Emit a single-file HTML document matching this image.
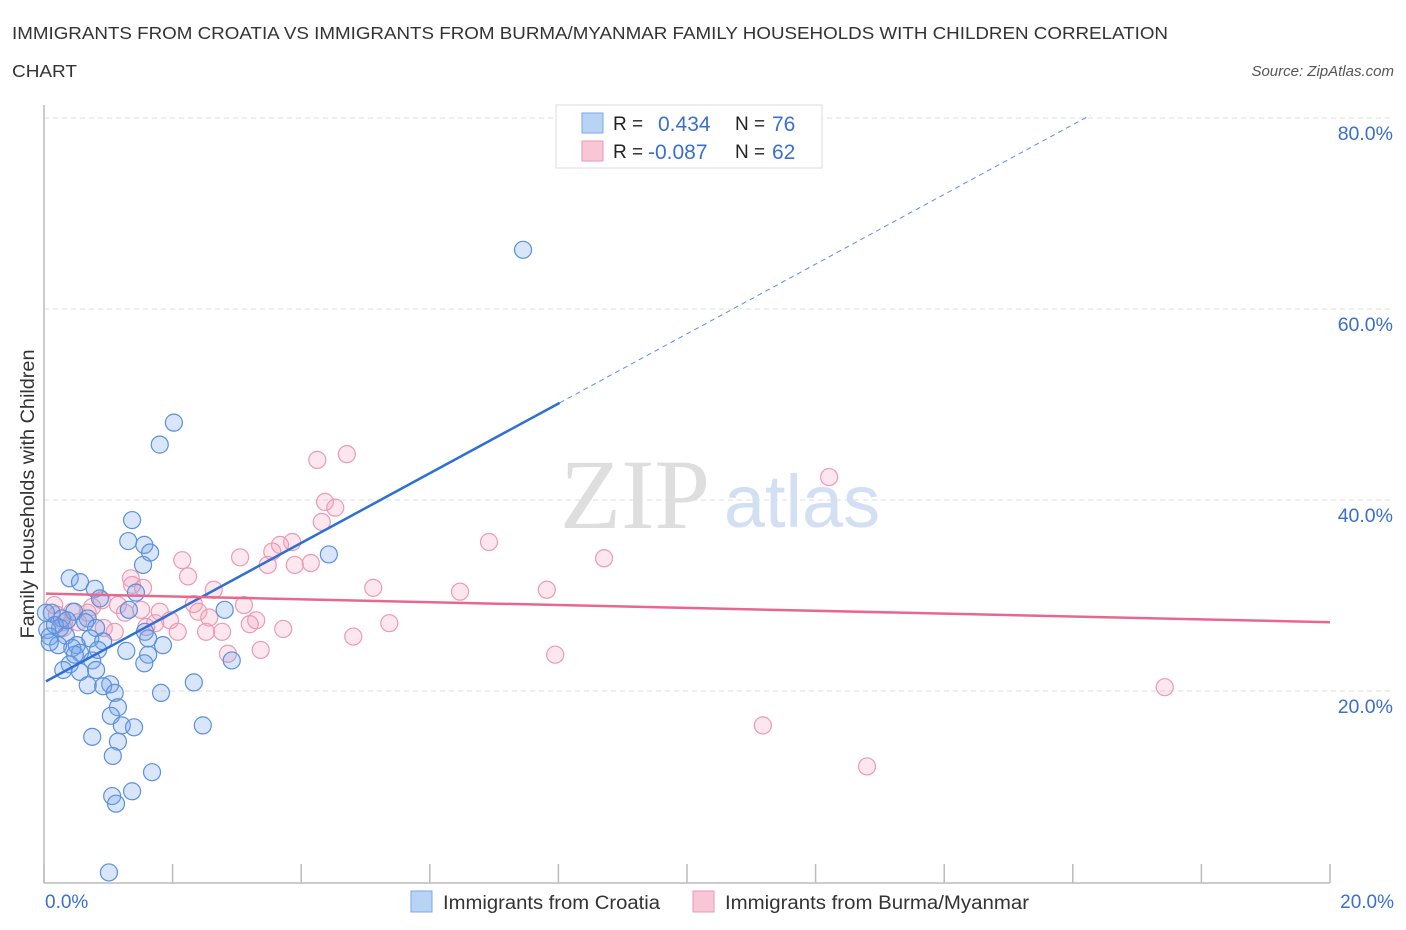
<!DOCTYPE html>
<html><head><meta charset="utf-8"><style>
body{margin:0;background:#fff;font-family:"Liberation Sans",sans-serif;}
svg{display:block}
</style></head><body>
<svg id="chart" width="1406" height="930" viewBox="0 0 1406 930">
<text x="12" y="39" font-size="17.5" fill="#333" textLength="1156" lengthAdjust="spacingAndGlyphs">IMMIGRANTS FROM CROATIA VS IMMIGRANTS FROM BURMA/MYANMAR FAMILY HOUSEHOLDS WITH CHILDREN CORRELATION</text>
<text x="12" y="77" font-size="17.5" fill="#333" textLength="65" lengthAdjust="spacingAndGlyphs">CHART</text>
<text x="1394" y="76" font-size="15" fill="#555" font-style="italic" text-anchor="end">Source: ZipAtlas.com</text>
<g id="grid"></g>
<g>
<text x="635" y="528" font-size="100" fill="#dedede" font-family="Liberation Serif,serif" text-anchor="middle">ZIP</text>
<text x="802" y="527" font-size="74" fill="#d3e0f3" text-anchor="middle">atlas</text>
</g>
<line x1="44" y1="105" x2="44" y2="883" stroke="#bbb" stroke-width="1.5"/>
<line x1="44" y1="883" x2="1330" y2="883" stroke="#bbb" stroke-width="1.5"/>
<g id="xticks"></g>
<g id="yticks"></g>
<g id="pinkpts"></g>
<g id="bluepts"></g>
<g id="trends"></g>
<text x="45" y="908" font-size="19" fill="#3a6fd0">0.0%</text>
<text x="1394" y="908" font-size="19" fill="#3a6fd0" text-anchor="end">20.0%</text>
<text transform="translate(34,494) rotate(-90)" font-size="19.5" fill="#333" text-anchor="middle" textLength="289" lengthAdjust="spacingAndGlyphs">Family Households with Children</text>
<g>
<rect x="556" y="105" width="266" height="63" fill="#fff" stroke="#ddd"/>
<rect x="582" y="113" width="21" height="20" fill="#b9d3f5" stroke="#7aa7e6"/>
<rect x="582" y="141" width="21" height="20" fill="#f9c6d5" stroke="#ea9ab2"/>
<text x="613" y="130" font-size="19" fill="#222">R =</text><text x="658" y="131" font-size="21" fill="#3a6fd0">0.434</text>
<text x="735" y="130" font-size="19" fill="#222">N =</text><text x="772" y="131" font-size="21" fill="#3a6fd0">76</text>
<text x="613" y="158" font-size="19" fill="#222">R =</text><text x="648" y="159" font-size="21" fill="#3a6fd0">-0.087</text>
<text x="735" y="158" font-size="19" fill="#222">N =</text><text x="772" y="159" font-size="21" fill="#3a6fd0">62</text>
</g>
<g>
<rect x="411" y="891" width="21" height="21" fill="#b9d3f5" stroke="#7aa7e6"/>
<text x="443" y="909" font-size="19" fill="#333" textLength="217" lengthAdjust="spacingAndGlyphs">Immigrants from Croatia</text>
<rect x="693" y="891" width="21" height="21" fill="#f9c6d5" stroke="#ea9ab2"/>
<text x="725" y="909" font-size="19" fill="#333" textLength="304" lengthAdjust="spacingAndGlyphs">Immigrants from Burma/Myanmar</text>
</g>
</svg>
<script>
const yTicks=[20,40,60,80];
const yTickLabels=["20.0%","40.0%","60.0%","80.0%"];
const xTicks=[0,2,4,6,8,10,12,14,16,18,20];
const croatiaX=[7.45,2.02,1.80,1.37,1.31,1.56,1.65,1.54,0.40,0.56,0.79,0.87,1.43,1.32,2.81,0.47,0.12,0.68,0.64,0.81,0.28,1.57,0.25,0.05,0.09,0.34,0.72,0.92,1.28,1.85,1.62,0.51,0.44,0.22,0.09,0.56,0.75,1.62,1.56,2.92,0.40,0.30,0.81,0.56,2.33,0.68,1.03,0.92,1.10,1.82,1.15,1.04,2.47,1.21,1.40,0.75,1.15,1.07,1.68,1.06,1.37,1.12,1.01,4.43,0.03,0.17,0.48,0.84,0.36];
const croatiaY=[66.2,48.1,45.8,37.9,35.7,35.3,34.5,33.2,31.8,31.4,30.7,29.7,30.3,28.5,28.5,28.3,28.2,27.6,27.2,26.6,27.6,26.2,26.6,26.4,25.7,25.8,25.5,25.2,24.2,24.8,25.5,24.8,24.5,24.8,25.1,24.0,23.2,23.8,22.9,23.2,22.8,22.2,22.2,22.0,20.9,20.6,20.7,20.5,19.8,19.8,18.3,17.4,16.4,16.4,16.2,15.2,14.7,13.2,11.5,9.0,9.5,8.2,1.0,34.3,28.2,26.9,23.8,24.3,27.4];
const burmaX=[12.21,17.43,11.18,12.80,4.71,4.25,4.37,4.53,4.32,6.92,8.71,3.86,3.67,3.55,3.05,2.15,3.48,3.90,4.15,1.35,2.24,1.54,2.64,5.12,6.47,7.82,0.90,1.15,1.51,0.75,1.26,1.80,2.33,2.40,3.11,3.30,3.20,5.37,2.57,1.96,1.73,1.59,2.08,2.52,2.77,3.72,4.81,1.10,0.93,0.16,0.20,0.31,0.30,0.44,2.86,3.37,7.95,0.68,0.53,1.37];
const burmaY=[42.4,20.4,16.4,12.1,44.8,44.2,39.8,39.2,37.7,35.6,33.9,35.6,35.3,34.6,34.0,33.7,33.2,33.2,33.4,31.8,32.0,30.8,30.6,30.8,30.4,30.6,29.5,29.0,28.5,28.8,28.2,28.3,29.1,28.3,29.0,27.4,27.0,27.1,27.7,27.4,27.1,26.7,26.2,26.2,26.2,26.5,25.7,26.2,26.6,29.0,28.0,27.2,26.6,28.3,23.9,24.3,23.8,28.2,27.2,31.1];
const croatiaTrend=[20.9,3.65];
const burmaTrend=[30.2,-0.15];
const NS="http://www.w3.org/2000/svg";
const xs=v=>44+64.3*v, ys=v=>882-9.55*v;
function mk(t,a,p){const e=document.createElementNS(NS,t);for(const k in a)e.setAttribute(k,a[k]);p.appendChild(e);return e;}
const grid=document.getElementById('grid');
yTicks.forEach((t,i)=>{
 const l=mk('line',{x1:44,x2:1394,y1:ys(t),y2:ys(t),stroke:'#ddd','stroke-dasharray':'5,4'},grid);
 
 
 const tx=mk('text',{x:1393,y:ys(t)+22,'font-size':19.5,fill:'#3a6fd0','text-anchor':'end'},document.getElementById('yticks'));
 tx.textContent=yTickLabels[i];
 
 
});
xTicks.forEach(t=>{
 const l=mk('line',{x1:xs(t),x2:xs(t),y1:864,y2:883,stroke:'#bbb','stroke-width':1.5},document.getElementById('xticks'));
 
 
});
function pts(X,Y,g,fill,stroke,name){
 X.forEach((x,i)=>{
  const c=mk('circle',{cx:xs(x),cy:ys(Y[i]),r:8.5,fill:fill,stroke:stroke,'stroke-width':1.2},g);
  
  
 });
}
pts(burmaX,burmaY,document.getElementById('pinkpts'),'rgba(244,160,188,0.25)','#ec9ab3','burma-point');
pts(croatiaX,croatiaY,document.getElementById('bluepts'),'rgba(120,165,235,0.28)','#5a90dd','croatia-point');
const tr=document.getElementById('trends');
let l=mk('line',{x1:xs(0.03),y1:ys(croatiaTrend[0]+croatiaTrend[1]*0.03),x2:xs(8.02),y2:ys(croatiaTrend[0]+croatiaTrend[1]*8.02),stroke:'#2e6fd6','stroke-width':2.5},tr);


l=mk('line',{x1:xs(8.02),y1:ys(croatiaTrend[0]+croatiaTrend[1]*8.02),x2:xs(16.27),y2:ys(croatiaTrend[0]+croatiaTrend[1]*16.27),stroke:'#5b8fdc','stroke-width':1,'stroke-dasharray':'5,4'},tr);


l=mk('line',{x1:xs(0.03),y1:ys(burmaTrend[0]+burmaTrend[1]*0.03),x2:xs(20),y2:ys(burmaTrend[0]+burmaTrend[1]*20),stroke:'#e8678f','stroke-width':2.5},tr);


</script>
</body></html>
